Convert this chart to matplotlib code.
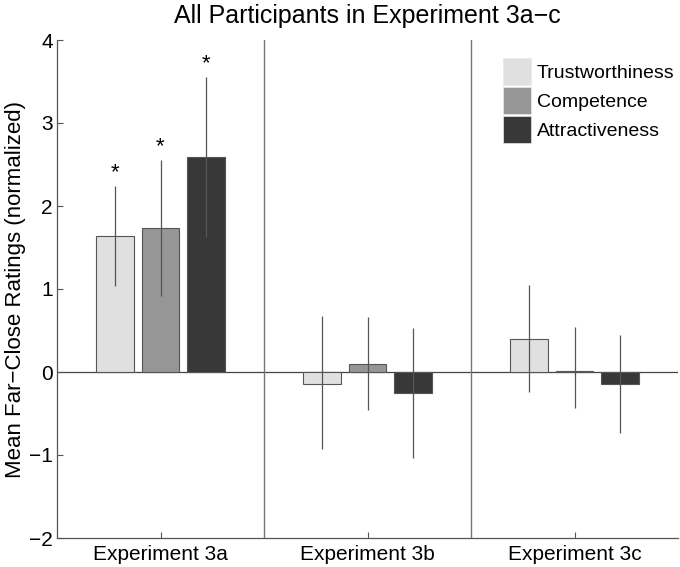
import numpy as np
import matplotlib
matplotlib.use("Agg")
import matplotlib.pyplot as plt
from matplotlib.patches import Patch

plt.rcParams['font.family'] = ['Liberation Sans', 'DejaVu Sans']

experiments = ['Experiment 3a', 'Experiment 3b', 'Experiment 3c']
traits = ['Trustworthiness', 'Competence', 'Attractiveness']
colors = ['#e0e0e0', '#969696', '#383838']

# mean ratings per trait, one value per experiment
means = {
    'Trustworthiness': [1.64, -0.14, 0.40],
    'Competence': [1.73, 0.10, 0.01],
    'Attractiveness': [2.59, -0.25, -0.14],
}
# error bar ends (lower, upper)
errLow = {
    'Trustworthiness': [1.04, -0.93, -0.24],
    'Competence': [0.92, -0.46, -0.43],
    'Attractiveness': [1.63, -1.04, -0.74],
}
errHigh = {
    'Trustworthiness': [2.24, 0.68, 1.05],
    'Competence': [2.55, 0.66, 0.54],
    'Attractiveness': [3.55, 0.53, 0.45],
}
# significance stars
significant = {
    'Trustworthiness': [True, False, False],
    'Competence': [True, False, False],
    'Attractiveness': [True, False, False],
}

fig = plt.figure(figsize=(6.8, 5.67), dpi=100)
ax = fig.add_axes([57/680, 1-538/567, 621/680, 498/567])

x = np.arange(1, len(experiments) + 1)
width = 0.18
offsets = [-0.22, 0, 0.22]

for k, trait in enumerate(traits):
    pos = x + offsets[k]
    ax.bar(pos, means[trait], width, color=colors[k], edgecolor='#555555',
           linewidth=0.8, zorder=2)
    ax.vlines(pos, errLow[trait], errHigh[trait], color='#555555',
              linewidth=0.9, zorder=3)
    for i in range(len(experiments)):
        if significant[trait][i]:
            ax.text(pos[i], errHigh[trait][i] + 0.16, '*', ha='center',
                    va='center', fontsize=16, zorder=4)

ax.axhline(0, color='#444444', linewidth=0.9, zorder=1)
for sep in [1.5, 2.5]:
    ax.axvline(sep, color='#777777', linewidth=1, zorder=1)

ax.set_xlim(0.5, 3.5)
ax.set_ylim(-2, 4)
ax.set_xticks(x)
ax.set_xticklabels(experiments, fontsize=15)
ax.set_yticks(range(-2, 5))
ax.set_yticklabels([str(v).replace('-', '\u2212') for v in range(-2, 5)], fontsize=15)
ax.tick_params(direction='in', length=4, color='#555555', pad=3)
ax.tick_params(axis='x', pad=5)
for side in ['top', 'right']:
    ax.spines[side].set_visible(False)
for side in ['left', 'bottom']:
    ax.spines[side].set_color('#555555')
    ax.spines[side].set_linewidth(0.9)

ax.set_ylabel('Mean Far\u2212Close Ratings (normalized)', fontsize=16, labelpad=2)
ax.set_title('All Participants in Experiment 3a\u2212c', fontsize=18, pad=12)

handles = [Patch(facecolor=c, edgecolor='#e8e8e8', linewidth=0.5) for c in colors]
ax.legend(handles, traits, loc='upper left', bbox_to_anchor=(503/680, 1-58/567),
          bbox_transform=fig.transFigure, frameon=False, fontsize=14,
          handlelength=1.45, handleheight=1.75, labelspacing=0.12,
          handletextpad=0.3, borderpad=0, borderaxespad=0)

fig.savefig('out.png', dpi=100)
